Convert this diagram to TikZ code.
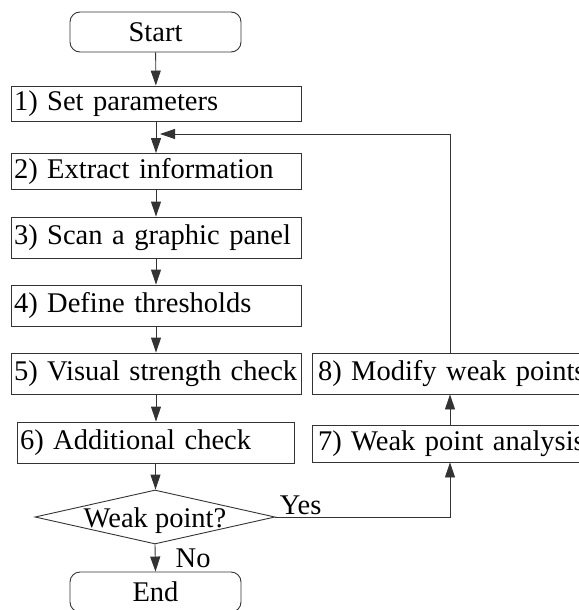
\documentclass[tikz,border=0pt]{standalone}
\usepackage{fontspec}
\setmainfont{Liberation Serif}
\usetikzlibrary{shapes.geometric,arrows.meta}

\begin{document}
\begin{tikzpicture}[x=1pt,y=-1pt,
  font=\fontsize{28.5pt}{32pt}\selectfont,
  every node/.style={line width=0.9pt, draw=black!80},
  stepbox/.style={rectangle, inner xsep=3pt, inner ysep=0pt, align=left},
  terminal/.style={rectangle, rounded corners=10pt, minimum width=171pt, minimum height=40pt, inner sep=0pt},
  decision/.style={diamond, minimum width=240pt, minimum height=54pt, inner sep=0pt},
  flow/.style={line width=0.9pt, draw=black!80, -{Triangle[length=15pt,width=10pt]}},
  tag/.style={draw=none, inner sep=0pt}
]
\useasboundingbox (0,0) rectangle (578,610);

% main column
\node[terminal] (start) at (155.5,32) {Start};
\node[stepbox, text width=284pt, minimum height=35pt] (s1) at (156,103.5) {1) Set parameters};
\node[stepbox, text width=284pt, minimum height=36pt] (s2) at (156,171.5) {2) Extract information};
\node[stepbox, text width=284pt, minimum height=41pt] (s3) at (156,237.5) {3) Scan a graphic panel};
\node[stepbox, text width=284pt, minimum height=41pt] (s4) at (156,305.5) {4) Define thresholds};
\node[stepbox, text width=284pt, minimum height=41pt] (s5) at (156,373.5) {\mbox{5) Visual strength check}};
\node[stepbox, text width=271pt, inner xsep=3pt, minimum height=41pt] (s6) at (155.5,442.5) {6) Additional check};
\node[decision] (weak) at (155,517) {\raisebox{-10pt}[0pt][0pt]{\makebox[0pt]{Weak point?}}};
\node[terminal] (stop) at (155.5,592) {End};

% side column (runs past the right edge)
\node[stepbox, text width=264pt, inner xsep=6pt, minimum height=41pt] (s8) at (450,373.5) {\mbox{8) Modify weak points}};
\node[stepbox, text width=264pt, inner xsep=6pt, minimum height=37pt] (s7) at (450,443.5) {\mbox{7) Weak point analysis}};

\coordinate (back) at (160,134);

% connectors
\draw[flow] (start) -- (s1);
\draw[flow] (s1) -- (s2);
\draw[flow] (s2) -- (s3);
\draw[flow] (s3) -- (s4);
\draw[flow] (s4) -- (s5);
\draw[flow] (s5.south) -- (s5.south |- s6.north);
\draw[flow] (s6.south) -- (s6.south |- weak.north);
\draw[flow] (weak.south) -- node[tag, anchor=west, xshift=20pt]{No} (stop.north);
\draw[flow] (weak.east) -| node[tag, pos=0, anchor=base west, xshift=4pt, yshift=3pt]{Yes} (s7.south);
\draw[flow] (s7) -- (s8);
\draw[flow] (s8.north) |- (back);
\end{tikzpicture}
\end{document}
